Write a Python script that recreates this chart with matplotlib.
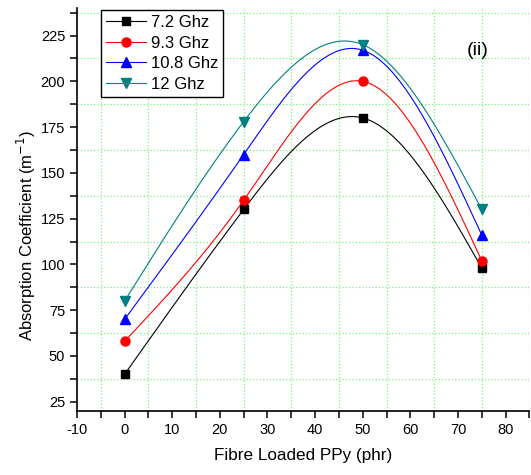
import numpy as np
import matplotlib
matplotlib.use('Agg')
from matplotlib import pyplot as plt
from matplotlib.ticker import MultipleLocator

plt.rcParams['font.family'] = ['Liberation Sans', 'DejaVu Sans']
plt.rcParams['axes.unicode_minus'] = False

# data
loading = [0, 25, 50, 75]
labels = ['7.2 Ghz', '9.3 Ghz', '10.8 Ghz', '12 Ghz']
f72 = [40, 130, 180, 98]
f93 = [58, 135, 200, 102]
f108 = [70, 160, 217, 116]
f12 = [80, 178, 220, 130]
series = [f72, f93, f108, f12]
colors = ['black', 'red', 'blue', '#008080']
markers = ['s', 'o', '^', 'v']
msizes = [5.5, 6.5, 7, 7]


def natural_spline(x, y, n=200):
    # natural cubic spline through the points, for the smooth line
    x = np.asarray(x, float)
    y = np.asarray(y, float)
    k = len(x)
    h = np.diff(x)
    A = np.zeros((k, k))
    b = np.zeros(k)
    A[0, 0] = A[-1, -1] = 1
    for i in range(1, k - 1):
        A[i, i - 1] = h[i - 1]
        A[i, i] = 2 * (h[i - 1] + h[i])
        A[i, i + 1] = h[i]
        b[i] = 6 * ((y[i + 1] - y[i]) / h[i] - (y[i] - y[i - 1]) / h[i - 1])
    M = np.linalg.solve(A, b)
    xs = np.linspace(x[0], x[-1], n)
    idx = np.clip(np.searchsorted(x, xs) - 1, 0, k - 2)
    x0, x1 = x[idx], x[idx + 1]
    hh = x1 - x0
    t0, t1 = x1 - xs, xs - x0
    ys = (M[idx] * t0**3 + M[idx + 1] * t1**3) / (6 * hh) \
        + (y[idx] / hh - M[idx] * hh / 6) * t0 \
        + (y[idx + 1] / hh - M[idx + 1] * hh / 6) * t1
    return xs, ys


fig = plt.figure(dpi=100, figsize=(5.31, 4.75))
ax = fig.add_axes([0.145, 0.135, 0.852, 0.848])

for vals, lab, c, m, ms in zip(series, labels, colors, markers, msizes):
    xs, ys = natural_spline(loading, vals)
    ax.plot(xs, ys, color=c, linewidth=0.8)
    ax.plot(loading, vals, linestyle='none', marker=m, color=c, markersize=ms)
    # legend handle: line + marker
    ax.plot([], [], color=c, linewidth=0.8, marker=m, markersize=ms, label=lab)

ax.set_xlim(-10, 85)
ax.set_ylim(20, 240)
ax.xaxis.set_major_locator(MultipleLocator(10))
ax.xaxis.set_minor_locator(MultipleLocator(10, offset=5))
ax.yaxis.set_major_locator(MultipleLocator(25))
ax.yaxis.set_minor_locator(MultipleLocator(25, offset=12.5))
ax.grid(which='minor', color='#80f080', linestyle=':', linewidth=0.9)
ax.grid(which='major', visible=False)

for s in ['top', 'right']:
    ax.spines[s].set_visible(False)
for s in ['left', 'bottom']:
    ax.spines[s].set_linewidth(1.2)
ax.tick_params(which='both', direction='out', length=5, width=1.1, labelsize=10.5)

ax.set_xlabel('Fibre Loaded PPy (phr)', fontsize=12.3, labelpad=8)
ax.set_ylabel('Absorption Coefficient (m$^{\\mathsf{-1}}$)', fontsize=12, va='center')
ax.yaxis.set_label_coords(-0.112, 0.435)
ax.text(74.2, 217, '(ii)', fontsize=14, ha='center', va='center')

leg = ax.legend(loc='upper left', bbox_to_anchor=(0.053, 0.995), borderaxespad=0,
                fancybox=False, edgecolor='black', fontsize=12, handlelength=2.4,
                framealpha=1, borderpad=0.3, labelspacing=0.33, handletextpad=0.3)
leg.get_frame().set_linewidth(1.0)

plt.savefig('out.png', dpi=100)
